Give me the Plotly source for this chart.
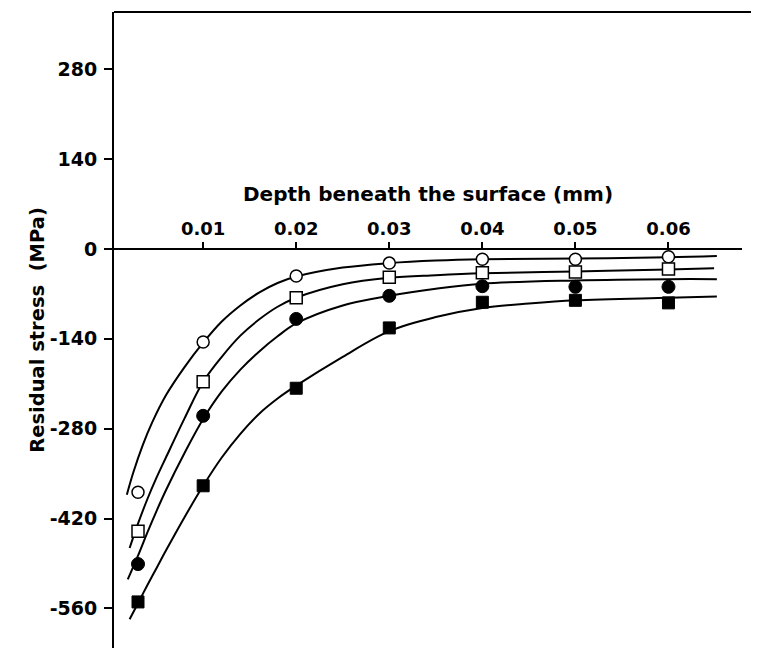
import plotly.graph_objects as go

# ---- data (depth in mm, residual stress in MPa) ----
depth = [0.003, 0.01, 0.02, 0.03, 0.04, 0.05, 0.06]
open_circle = [-379, -145, -42, -22, -16, -16, -12]
open_square = [-440, -207, -76, -44, -37, -36, -31]
filled_circle = [-491, -260, -109, -73, -58, -59, -59]
filled_square = [-550, -369, -217, -123, -83, -80, -84]

# fitted curves
curve_oc_x = [0.0018, 0.0025, 0.0035, 0.0045, 0.006, 0.008, 0.010, 0.012, 0.014, 0.016,
              0.018, 0.020, 0.025, 0.030, 0.035, 0.040, 0.050, 0.060, 0.0652]
curve_oc_y = [-383, -348, -306, -271, -228, -184, -146, -113, -88, -68,
              -53, -43, -29, -22, -18, -16, -15, -13, -11]

curve_os_x = [0.0021, 0.003, 0.004, 0.005, 0.006, 0.008, 0.010, 0.012, 0.014, 0.016,
              0.018, 0.020, 0.025, 0.030, 0.035, 0.040, 0.050, 0.060, 0.0649]
curve_os_y = [-466, -428, -390, -356, -325, -264, -207, -168, -135, -110,
              -90, -76, -55, -45, -41, -38, -35, -32, -30]

curve_fc_x = [0.0019, 0.003, 0.004, 0.005, 0.006, 0.008, 0.010, 0.012, 0.014, 0.016,
              0.018, 0.020, 0.025, 0.030, 0.035, 0.040, 0.050, 0.060, 0.0652]
curve_fc_y = [-515, -478, -442, -408, -376, -318, -265, -222, -188, -160,
              -136, -116, -88, -73, -62, -54, -49, -47, -47]

curve_fs_x = [0.0021, 0.003, 0.004, 0.005, 0.006, 0.008, 0.010, 0.012, 0.014, 0.016,
              0.018, 0.020, 0.025, 0.030, 0.035, 0.040, 0.045, 0.050, 0.060, 0.0652]
curve_fs_y = [-577, -552, -524, -497, -470, -418, -369, -325, -288, -257,
              -233, -213, -168, -128, -106, -92, -85, -80, -76, -74]

x_ticks = [0.01, 0.02, 0.03, 0.04, 0.05, 0.06]
x_tick_labels = ["0.01", "0.02", "0.03", "0.04", "0.05", "0.06"]
y_ticks = [280, 140, 0, -140, -280, -420, -560]
y_tick_labels = ["280", "140", "0", "-140", "-280", "-420", "-560"]

x_title = "Depth beneath the surface (mm)"
y_title = "Residual stress \u00a0(MPa)"

FONT = "DejaVu Sans"
y_range = [-621.8, 369.3]
x_range = [0.00042, 0.0679]

fig = go.Figure()

for cx, cy in [(curve_oc_x, curve_oc_y), (curve_os_x, curve_os_y),
               (curve_fc_x, curve_fc_y), (curve_fs_x, curve_fs_y)]:
    fig.add_trace(go.Scatter(x=cx, y=cy, mode="lines",
                             line=dict(color="black", width=2, shape="spline", smoothing=1.0),
                             hoverinfo="skip"))

fig.add_trace(go.Scatter(x=depth, y=open_circle, mode="markers", name="open circle",
                         marker=dict(symbol="circle", size=12, color="white",
                                     line=dict(color="black", width=1.5))))
fig.add_trace(go.Scatter(x=depth, y=open_square, mode="markers", name="open square",
                         marker=dict(symbol="square", size=12, color="white",
                                     line=dict(color="black", width=1.5))))
fig.add_trace(go.Scatter(x=depth, y=filled_circle, mode="markers", name="filled circle",
                         marker=dict(symbol="circle", size=13, color="black",
                                     line=dict(color="black", width=1))))
fig.add_trace(go.Scatter(x=depth, y=filled_square, mode="markers", name="filled square",
                         marker=dict(symbol="square", size=12, color="black",
                                     line=dict(color="black", width=1))))

pos0 = (0 - y_range[0]) / (y_range[1] - y_range[0])

# the page body adds an 8 px offset, so the figure is 8 px smaller than the window
fig.update_layout(
    width=751, height=640,
    margin=dict(l=106, r=17, t=4, b=0, pad=0),
    paper_bgcolor="white", plot_bgcolor="white",
    showlegend=False,
    font=dict(family=FONT, color="black"),
    xaxis=dict(range=x_range, anchor="free", position=pos0, side="top", automargin=False,
               tickvals=x_ticks, ticktext=x_tick_labels,
               ticks="outside", ticklen=7, tickwidth=1.5, tickcolor="black",
               showline=False, showgrid=False, zeroline=False,
               tickfont=dict(family=FONT, size=18, weight="bold"),
               title=dict(text=x_title, standoff=9,
                          font=dict(family=FONT, size=20, weight="bold"))),
    yaxis=dict(range=y_range, tickvals=y_ticks, ticktext=y_tick_labels, automargin=False,
               ticks="outside", ticklen=8, tickwidth=1.5, tickcolor="black",
               ticklabelstandoff=3,
               showline=True, linewidth=2, linecolor="black",
               showgrid=False, zeroline=True, zerolinecolor="black", zerolinewidth=2,
               tickfont=dict(family=FONT, size=19, weight="bold"),
               title=dict(text=y_title, standoff=0,
                          font=dict(family=FONT, size=19.5, weight="bold"))),
    shapes=[dict(type="line", xref="paper", yref="paper", x0=0, x1=1.03, y0=1, y1=1,
                 line=dict(color="black", width=2))],
)

fig.write_html("out.html")
